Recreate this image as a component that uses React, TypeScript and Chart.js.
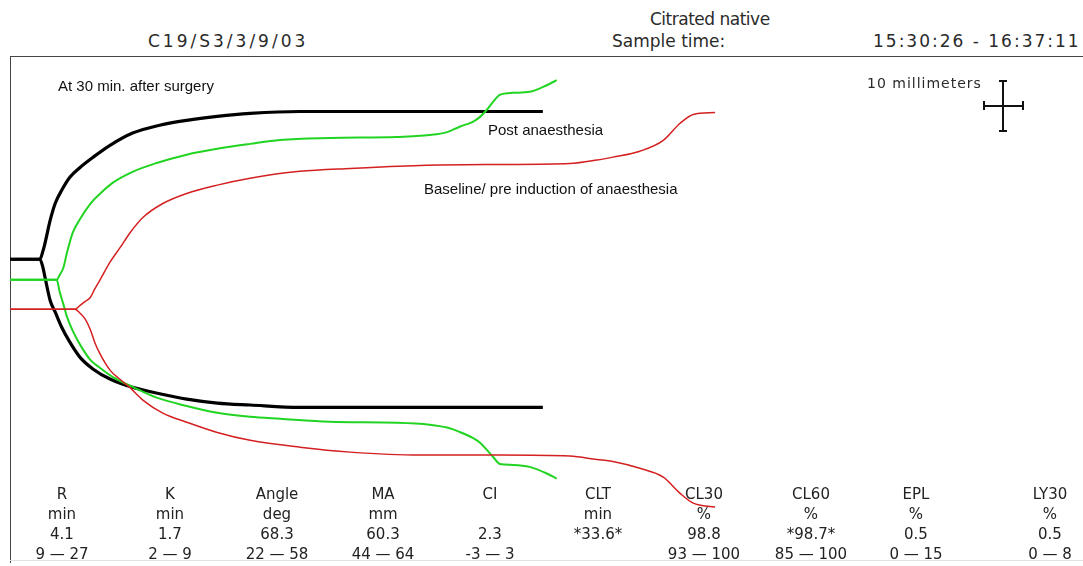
import React, { useEffect, useRef } from "react";
import { Chart, registerables } from "chart.js";

Chart.register(...registerables);

// ---------- data (time in minutes, half-amplitude in mm) ----------
const blackTime = [0, 4.1, 4.5, 4.8, 5.5, 6.2, 7.1, 8.2, 9.6, 11.4, 13.7, 16.8, 20.5, 24.2, 28.4, 32.9, 39.7, 53.4, 73.0];
const blackUpper = [0, 0, 1.6, 3.3, 7.9, 11.4, 14.1, 16.7, 18.7, 20.8, 23.2, 25.7, 27.3, 28.3, 29.1, 29.7, 30.1, 30.1, 30.1];
const blackLower = [0, 0, 1.6, 3.7, 8.4, 10.8, 13.9, 16.9, 20.0, 22.4, 24.4, 26.1, 27.4, 28.5, 29.3, 29.7, 30.2, 30.2, 30.2];

const greenTime = [0, 6.4, 6.8, 7.3, 7.8, 8.6, 9.6, 11.0, 12.3, 14.1, 16.8, 20.1, 24.2, 28.4, 32.9, 37.0, 43.8, 53.0, 57.5, 59.9, 61.6, 63.4, 64.4, 65.3, 66.2, 67.1, 68.9, 71.2, 73.6, 74.9];
const greenUpper = [0, 0, 1.0, 2.4, 5.5, 9.6, 12.4, 15.5, 17.5, 19.8, 22.0, 23.8, 25.5, 26.7, 27.7, 28.5, 28.9, 29.1, 29.5, 30.1, 31.2, 32.2, 33.2, 34.6, 36.3, 37.7, 38.1, 38.3, 39.7, 40.7];
const greenLower = [0, 0, 2.4, 4.9, 7.5, 10.4, 13.2, 16.3, 17.9, 19.8, 21.8, 24.0, 25.7, 27.1, 27.9, 28.3, 28.9, 29.1, 29.5, 30.1, 31.0, 32.2, 33.2, 34.6, 36.1, 37.5, 37.7, 38.1, 39.5, 40.5];

const redTime = [0, 8.9, 9.6, 10.3, 11.0, 11.6, 12.3, 13.7, 15.1, 16.4, 18.2, 21.0, 24.2, 28.4, 32.9, 39.7, 46.6, 56.2, 67.1, 76.7, 80.4, 82.6, 86.3, 89.5, 91.8, 93.6, 96.6];
const redUpper = [0, 0, 0.8, 1.6, 2.4, 4.1, 5.9, 9.6, 12.6, 15.5, 18.7, 21.6, 23.6, 25.3, 26.7, 28.1, 28.7, 29.3, 29.5, 29.7, 30.4, 31.0, 32.2, 34.4, 37.9, 39.7, 40.1];
const redLower = [0, 0, 0.8, 2.0, 4.1, 6.7, 9.0, 12.4, 14.3, 15.9, 18.5, 21.2, 23.0, 25.1, 26.7, 28.1, 29.1, 29.7, 29.7, 29.9, 30.6, 31.0, 32.4, 34.2, 37.5, 39.5, 40.3];

// baseline of each trace (mm above the bottom of the plot)
const blackBase = 62.5;
const greenBase = 58.3;
const redBase = 52.3;

// parameter table
const paramNames = ["R", "K", "Angle", "MA", "CI", "CLT", "CL30", "CL60", "EPL", "LY30"];
const paramUnits = ["min", "min", "deg", "mm", "", "min", "%", "%", "%", "%"];
const paramValues = ["4.1", "1.7", "68.3", "60.3", "2.3", "*33.6*", "98.8", "*98.7*", "0.5", "0.5"];
const paramRanges = ["9 \u2014 27", "2 \u2014 9", "22 \u2014 58", "44 \u2014 64", "-3 \u2014 3", "", "93 \u2014 100", "85 \u2014 100", "0 \u2014 15", "0 \u2014 8"];
const paramCenters = [62, 170, 277, 383, 490, 598, 704, 811, 916, 1050];

const X_MAX = 147; // minutes across plot
const Y_MAX = 103.7; // mm of plot height

function pts(t: number[], a: number[], base: number, sign: number) {
  return t.map((x, i) => ({ x, y: base + sign * a[i] }));
}

export default function App() {
  const ref = useRef<HTMLCanvasElement>(null);
  useEffect(() => {
    if (!ref.current) return;
    const mk = (label: string, data: any[], color: string, w: number, order: number) => ({
      label,
      data,
      borderColor: color,
      backgroundColor: color,
      borderWidth: w,
      pointRadius: 0,
      cubicInterpolationMode: "monotone" as const,
      fill: false,
      order,
    });
    const chart = new Chart(ref.current, {
      type: "line",
      data: {
        datasets: [
          mk("Baseline upper", pts(redTime, redUpper, redBase, 1), "#d42020", 1.5, 0),
          mk("Baseline lower", pts(redTime, redLower, redBase, -1), "#d42020", 1.5, 0),
          mk("Post upper", pts(greenTime, greenUpper, greenBase, 1), "#22d422", 2, 1),
          mk("Post lower", pts(greenTime, greenLower, greenBase, -1), "#22d422", 2, 1),
          mk("30 min upper", pts(blackTime, blackUpper, blackBase, 1), "#000000", 3.2, 2),
          mk("30 min lower", pts(blackTime, blackLower, blackBase, -1), "#000000", 3.2, 2),
        ],
      },
      options: {
        animation: false,
        responsive: false,
        maintainAspectRatio: false,
        layout: { padding: 0 },
        plugins: { legend: { display: false }, tooltip: { enabled: false }, title: { display: false } },
        scales: {
          x: { type: "linear", min: 0, max: X_MAX, display: false },
          y: { type: "linear", min: 0, max: Y_MAX, display: false },
        },
      },
    });
    return () => chart.destroy();
  }, []);

  const hdr: React.CSSProperties = {
    position: "absolute",
    fontFamily: "'DejaVu Sans', sans-serif",
    fontSize: 17,
    letterSpacing: 0,
    color: "#2a2a2a",
    whiteSpace: "pre",
    lineHeight: "20px",
  };
  const ann: React.CSSProperties = {
    position: "absolute",
    fontFamily: "'Liberation Sans', Arial, sans-serif",
    fontSize: 15,
    color: "#111",
    whiteSpace: "pre",
    lineHeight: "17px",
  };

  return (
    <div style={{ position: "absolute", left: 0, top: 0, width: 1083, height: 566, background: "#fff", overflow: "hidden" }}>
      <div style={{ ...hdr, left: 148, top: 31, letterSpacing: 3 }}>C19/S3/3/9/03</div>
      <div style={{ ...hdr, left: 650, top: 9, letterSpacing: -0.5 }}>Citrated native</div>
      <div style={{ ...hdr, left: 612, top: 31 }}>Sample time:</div>
      <div style={{ ...hdr, left: 873, top: 31, letterSpacing: 2 }}>15:30:26 - 16:37:11</div>

      <div style={{ position: "absolute", left: 10, top: 56, width: 1073, height: 1, background: "#444" }} />
      <div style={{ position: "absolute", left: 10, top: 56, width: 1, height: 507, background: "#444" }} />
      <div style={{ position: "absolute", left: 10, top: 560, width: 1073, height: 1, background: "#e2e2e2" }} />

      <canvas ref={ref} width={1073} height={509} style={{ position: "absolute", left: 10, top: 57 }} />

      <div style={{ ...ann, left: 58, top: 77 }}>At 30 min. after surgery</div>
      <div style={{ ...ann, left: 488, top: 121 }}>Post anaesthesia</div>
      <div style={{ ...ann, left: 424, top: 180 }}>Baseline/ pre induction of anaesthesia</div>

      <div style={{ ...hdr, fontSize: 14, letterSpacing: 1, left: 867, top: 75, lineHeight: "16px" }}>10 millimeters</div>
      {/* scale cross */}
      <div style={{ position: "absolute", left: 1002, top: 80, width: 1.5, height: 51, background: "#111" }} />
      <div style={{ position: "absolute", left: 999, top: 80, width: 8, height: 1.5, background: "#111" }} />
      <div style={{ position: "absolute", left: 999, top: 130, width: 8, height: 1.5, background: "#111" }} />
      <div style={{ position: "absolute", left: 983, top: 105, width: 41, height: 1.5, background: "#111" }} />
      <div style={{ position: "absolute", left: 983, top: 101, width: 1.5, height: 9, background: "#111" }} />
      <div style={{ position: "absolute", left: 1022, top: 101, width: 1.5, height: 9, background: "#111" }} />

      {paramNames.map((n, i) => (
        <div
          key={n}
          style={{
            position: "absolute",
            left: paramCenters[i] - 55,
            top: 484,
            width: 110,
            textAlign: "center",
            fontFamily: "'DejaVu Sans', sans-serif",
            fontSize: 15,
            lineHeight: "20px",
            color: "#222",
            whiteSpace: "pre",
          }}
        >
          {n + "\n" + paramUnits[i] + "\n" + paramValues[i] + "\n" + paramRanges[i]}
        </div>
      ))}
    </div>
  );
}
